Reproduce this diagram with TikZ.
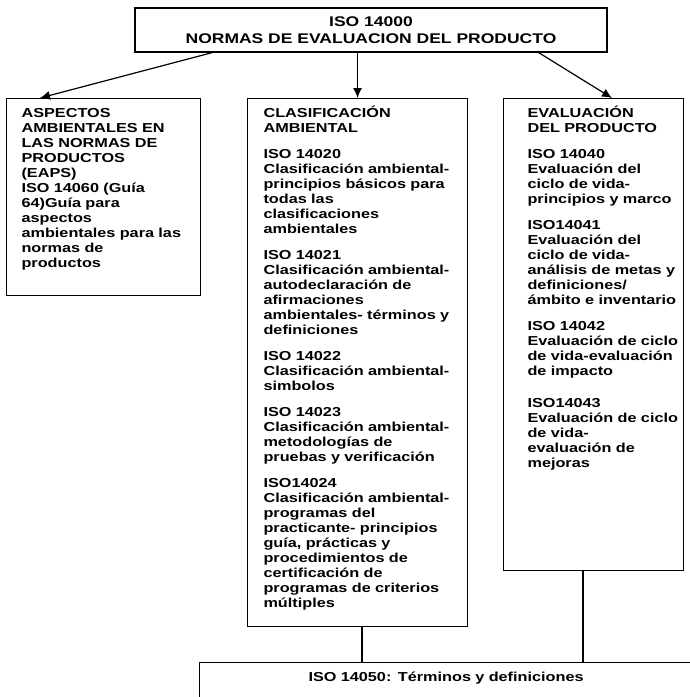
\documentclass[tikz,border=0pt]{standalone}
\usepackage{fontspec}
\newfontfamily\normfont{Liberation Sans}[FakeStretch=1.25]
\usetikzlibrary{arrows.meta, positioning, calc}
\tikzset{
  normbox/.style={
    rectangle, draw=black, line width=1.1pt, anchor=north west, align=left,
    inner xsep=2pt, inner ysep=9pt, text height=10pt,
    font=\normfont\bfseries\fontsize{13}{15}\selectfont
  },
  headbox/.style={
    rectangle, draw=black, line width=1.1pt, align=center, minimum width=472pt,
    minimum height=44pt, inner sep=2pt, font=\normfont\bfseries\fontsize{14}{17}\selectfont
  },
  lpad/.style={execute at begin node={\leftskip=#1\rightskip=-30pt plus 1fil}},
  link/.style={-{Latex[length=10pt,width=9pt]}, line width=1.2pt},
  tieline/.style={line width=1.2pt}
}

\begin{document}
\begin{tikzpicture}[x=1pt, y=-1pt]
    \useasboundingbox (0,0) rectangle (689,697);
    \node[headbox] (iso) at (371,30) {ISO 14000\\NORMAS DE EVALUACION DEL PRODUCTO};
    \node[normbox, text width=190pt, text depth=169pt, lpad=13pt] (eaps) at (6,98)
    {ASPECTOS\\
    AMBIENTALES EN\\
    LAS NORMAS DE\\
    PRODUCTOS\\
    (EAPS)\\
    ISO 14060 (Guía\\
    64)Guía para\\
    aspectos\\
    ambientales para las\\
    normas de\\
    productos};
    \node[normbox, text width=216pt, text depth=500pt, lpad=14pt] (clasif) at (247,98)
    {CLASIFICACIÓN\\
    AMBIENTAL\\[11pt]
    ISO 14020\\
    Clasificación ambiental-\\
    principios básicos para\\
    todas las\\
    clasificaciones\\
    ambientales\\[11pt]
    ISO 14021\\
    Clasificación ambiental-\\
    autodeclaración de\\
    afirmaciones\\
    ambientales- términos y\\
    definiciones\\[11pt]
    ISO 14022\\
    Clasificación ambiental-\\
    simbolos\\[11pt]
    ISO 14023\\
    Clasificación ambiental-\\
    metodologías de\\
    pruebas y verificación\\[11pt]
    ISO14024\\
    Clasificación ambiental-\\
    programas del\\
    practicante- principios\\
    guía, prácticas y\\
    procedimientos de\\
    certificación de\\
    programas de criterios\\
    múltiples};
    \node[normbox, text width=176pt, text depth=444pt, lpad=22pt] (evalua) at (503,98)
    {EVALUACIÓN\\
    DEL PRODUCTO\\[11pt]
    ISO 14040\\
    Evaluación del\\
    ciclo de vida-\\
    principios y marco\\[11pt]
    ISO14041\\
    Evaluación del\\
    ciclo de vida-\\
    análisis de metas y\\
    definiciones/\\
    ámbito e inventario\\[11pt]
    ISO 14042\\
    Evaluación de ciclo\\
    de vida-evaluación\\
    de impacto\\[17pt]
    ISO14043\\
    Evaluación de ciclo\\
    de vida-\\
    evaluación de\\
    mejoras};
    \node[normbox, align=center, text width=489pt, text depth=60pt] (vocab) at (199,662)
    {ISO 14050: Términos y definiciones};
    % arrows from the head box
    \draw[link] ([xshift=78pt]iso.south west) -- ([xshift=34pt]eaps.north west);
    \draw[link] (iso.south -| clasif.north) -- (clasif.north);
    \draw[link] ([xshift=-69pt]iso.south east) -- ([xshift=109pt]evalua.north west);
    % lines down to the vocabulary box
    \coordinate (m1) at ([xshift=115pt]clasif.south west);
    \coordinate (r1) at ([xshift=80pt]evalua.south west);
    \draw[tieline] (m1) -- (m1 |- vocab.north);
    \draw[tieline] (r1) -- (r1 |- vocab.north);
\end{tikzpicture}
\end{document}
